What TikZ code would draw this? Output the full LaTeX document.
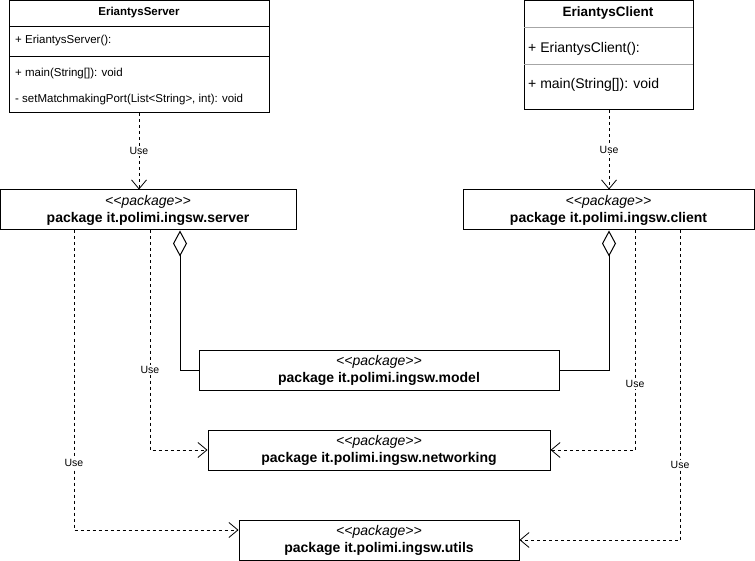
\documentclass[tikz,border=0pt]{standalone}
\usepackage{fontspec}
\setmainfont{Liberation Sans}
\usetikzlibrary{arrows.meta}
\tikzstyle{classbox} = [rectangle, draw=black, line width=1pt, inner sep=0pt, anchor=north west]
\tikzstyle{member} = [anchor=west, inner sep=0pt]
\tikzstyle{pkg} = [rectangle, draw=black, line width=1pt, inner sep=0pt, align=center, font=\fontsize{14}{17}\selectfont]
\tikzstyle{use} = [line width=0.8pt, dash pattern=on 3pt off 3pt, -{Straight Barb[length=9pt, width=15pt]}]
\tikzstyle{agg} = [line width=1pt, {Diamond[open, length=26pt, width=14pt, fill=white]}-]
\tikzstyle{uselabel} = [fill=white, inner sep=1pt, font=\fontsize{10.5}{12}\selectfont]
\newcommand{\stereo}{\textit{{<}{<}package{>}{>}}}

\begin{document}
\begin{tikzpicture}[x=1pt, y=-1pt]
        \useasboundingbox (0,0) rectangle (755,561);

        % Classes
        \node (srvclass) [classbox, minimum width=260, minimum height=112] at (9,0) {};
        \node (srvtitle) [font=\fontsize{11.5}{13}\selectfont\bfseries] at (139,13) {EriantysServer};
        \draw [line width=1pt] (9,27) -- (269,27);
        \draw [line width=1pt] (9,57) -- (269,57);
        \node (srvctor) [member, font=\fontsize{11.5}{13}\selectfont] at (15,41) {+ EriantysServer():};
        \node (srvmain) [member, font=\fontsize{11.5}{13}\selectfont] at (15,74) {+ main(String[]): void};
        \node (srvport) [member, font=\fontsize{11.5}{13}\selectfont] at (15,100) {- setMatchmakingPort(List<String>, int): void};

        \node (cliclass) [classbox, minimum width=169, minimum height=109] at (524,0) {};
        \node (clititle) [font=\fontsize{13.5}{16}\selectfont\bfseries] at (608,13) {EriantysClient};
        \draw [line width=1pt, gray!70] (524,28) -- (693,28);
        \draw [line width=1pt, gray!70] (524,65) -- (693,65);
        \node (clictor) [member, font=\fontsize{14}{16}\selectfont] at (528,49) {+ EriantysClient():};
        \node (climain) [member, font=\fontsize{14}{16}\selectfont] at (528,85) {+ main(String[]): void};

        % Packages
        \node (srvpkg) [pkg, minimum width=296, minimum height=40] at (148,210) {\stereo\\\textbf{package it.polimi.ingsw.server}};
        \node (clipkg) [pkg, minimum width=291, minimum height=40] at (608.5,210) {\stereo\\\textbf{package it.polimi.ingsw.client}};
        \node (modelpkg) [pkg, minimum width=360, minimum height=40] at (379,370) {\stereo\\\textbf{package it.polimi.ingsw.model}};
        \node (netpkg) [pkg, minimum width=342, minimum height=40] at (379,450) {\stereo\\\textbf{package it.polimi.ingsw.networking}};
        \node (utilpkg) [pkg, minimum width=280, minimum height=40] at (379,540) {\stereo\\\textbf{package it.polimi.ingsw.utils}};

        % Corners
        \coordinate (srvagg) at (180,370);
        \coordinate (cliagg) at (609,370);
        \coordinate (srvnet) at (150,450);
        \coordinate (srvutil) at (74,530);
        \coordinate (clinet) at (635,450);
        \coordinate (cliutil) at (680,540);

        % Arrows
        \draw [use] (srvclass.south -| 139,0) -- node[uselabel] {Use} (srvpkg.north -| 139,0);
        \draw [use] (cliclass.south) -- node[uselabel] {Use} (clipkg.north -| cliclass.south);
        \draw [agg] (srvpkg.south -| srvagg) -- (srvagg) -- (modelpkg.west);
        \draw [agg] (clipkg.south -| cliagg) -- (cliagg) -- (modelpkg.east);
        \draw [use] (srvpkg.south -| srvnet) -- node[uselabel, pos=0.636] {Use} (srvnet) -- (netpkg.west);
        \draw [use] (srvpkg.south -| srvutil) -- node[uselabel, pos=0.777] {Use} (srvutil) -- (utilpkg.west |- srvutil);
        \draw [use] (clipkg.south -| clinet) -- node[uselabel, pos=0.7] {Use} (clinet) -- (netpkg.east);
        \draw [use] (clipkg.south -| cliutil) -- node[uselabel, pos=0.758] {Use} (cliutil) -- (utilpkg.east);
    \end{tikzpicture}
\end{document}
